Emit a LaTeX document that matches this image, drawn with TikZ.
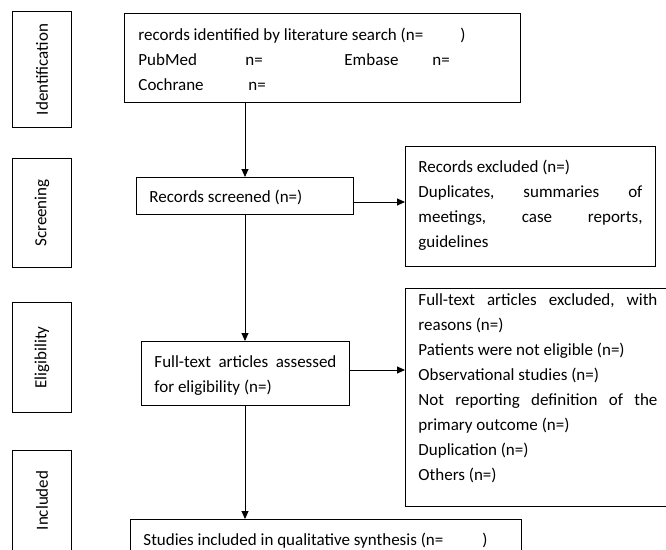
\documentclass[tikz,border=0pt]{standalone}
\usepackage{fontspec}
\usepackage{graphicx}
\setmainfont{Carlito}
\usetikzlibrary{arrows.meta}
\newcommand\bxt[4]{\parbox[c][#1][t]{#2}{\vspace*{#3}\strut #4}}
\begin{document}
\begin{tikzpicture}[x=1pt,y=1pt,
  every node/.style={font=\fontsize{17}{25}\selectfont},
  box/.style={draw, line width=0.9pt, inner xsep=13pt, inner ysep=0pt, anchor=north west},
  stage/.style={draw, line width=0.9pt, inner sep=0pt, minimum width=59pt, anchor=north west},
  arr/.style={line width=0.9pt, -{Triangle[length=8pt,width=7pt]}}]
\useasboundingbox (0,0) rectangle (666,-549);
\clip (0,0) rectangle (666,-549);

% stage labels
\node[stage, minimum height=116pt] (ident) at (12,-11) {\rotatebox{90}{Identification}};
\node[stage, minimum height=109pt] (scr) at (12,-158) {\rotatebox{90}{Screening}};
\node[stage, minimum height=110pt] (elig) at (12,-302) {\rotatebox{90}{Eligibility}};
\node[stage, minimum height=100pt] (incl) at (12,-450) {\rotatebox{90}{Included}};

% main boxes
\node[box, inner xsep=14pt] (search) at (124,-13) {\bxt{89pt}{368pt}{9.5pt}{%
\makebox[322pt][l]{records identified by literature search (n=})\\
\makebox[107pt][l]{PubMed}\makebox[99pt][l]{n=}\makebox[88pt][l]{Embase}n=\\
\makebox[110pt][l]{Cochrane}n=}};

\node[box] (screened) at (136,-177) {\bxt{37pt}{191pt}{8pt}{Records screened (n=)}};

\node[box] (excl1) at (405,-146) {\bxt{120pt}{224pt}{8.5pt}{%
Records excluded (n=)\\
Duplicates,\hfill summaries\hfill of\\
meetings,\hfill case\hfill reports,\\
guidelines}};

\node[box] (assessed) at (141,-341) {\bxt{64pt}{182pt}{8.5pt}{%
Full-text\hfill articles\hfill assessed\\
for eligibility (n=)}};

\node[box] (excl2) at (405,-288) {\bxt{218pt}{239pt}{0pt}{%
Full-text\hfill articles\hfill excluded,\hfill with\\
reasons (n=)\\
Patients were not eligible (n=)\\
Observational studies (n=)\\
Not\hfill reporting\hfill definition\hfill of\hfill the\\
primary outcome (n=)\\
Duplication (n=)\\
Others (n=)}};

\node[box] (included) at (130,-519) {\bxt{60pt}{365pt}{9pt}{%
\makebox[339pt][l]{Studies included in qualitative synthesis (n=})}};

% connectors
\coordinate (spine) at (245,0);
\coordinate (r1) at (0,-202);
\coordinate (r2) at (0,-370);
\draw[arr] (search.south -| spine) -- (screened.north -| spine);
\draw[arr] (screened.south -| spine) -- (assessed.north -| spine);
\draw[arr] (assessed.south -| spine) -- (included.north -| spine);
\draw[arr] (screened.east |- r1) -- (excl1.west |- r1);
\draw[arr] (assessed.east |- r2) -- (excl2.west |- r2);
\end{tikzpicture}
\end{document}
